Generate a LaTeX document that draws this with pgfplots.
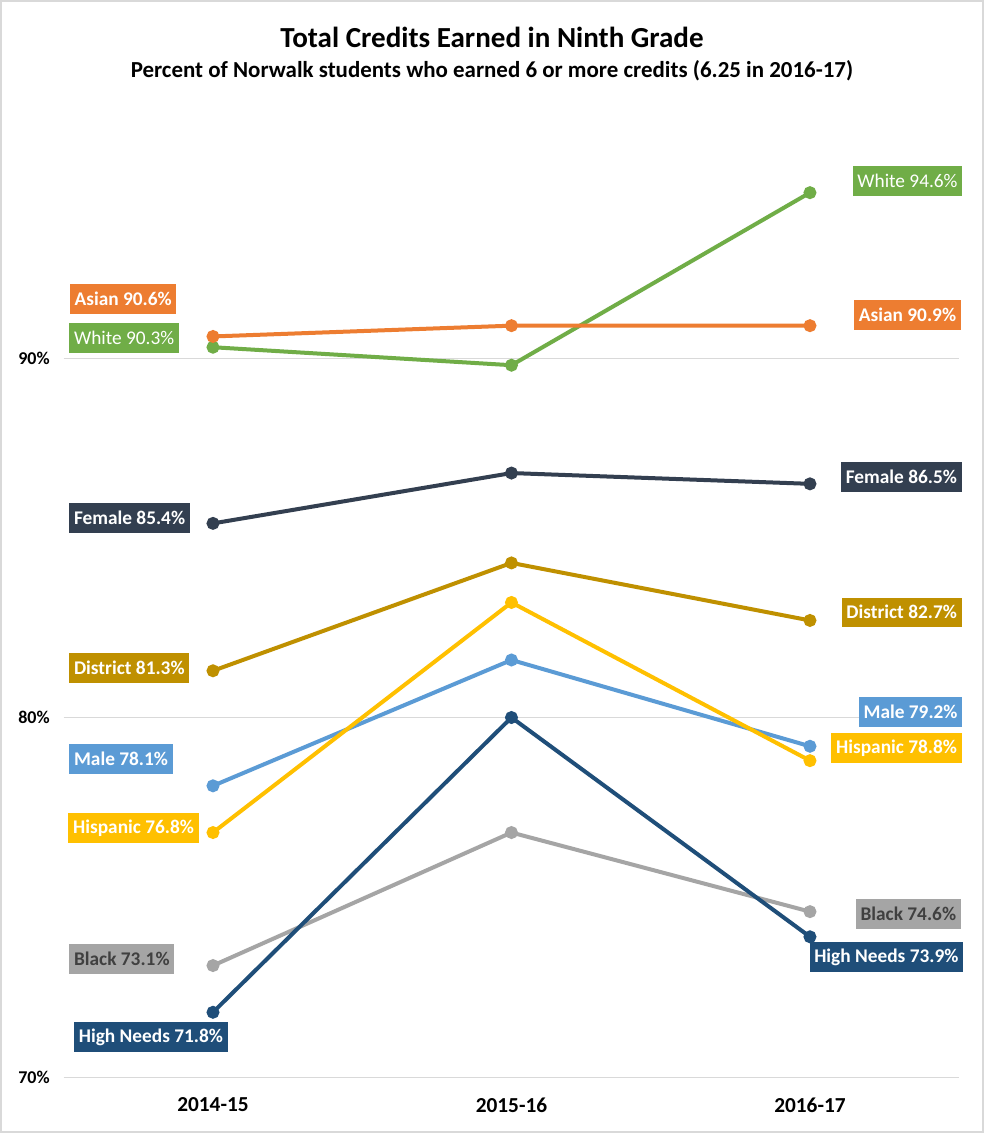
\documentclass[border=0pt]{standalone}
\usepackage{fontspec}
\setmainfont{Carlito}
\usepackage{pgfplots}
\pgfplotsset{compat=1.18}
\definecolor{cAsian}{HTML}{ED7D31}
\definecolor{cWhite}{HTML}{70AD47}
\definecolor{cFemale}{HTML}{333F50}
\definecolor{cDistrict}{HTML}{BF9000}
\definecolor{cHisp}{HTML}{FFC000}
\definecolor{cMale}{HTML}{5B9BD5}
\definecolor{cHigh}{HTML}{1F4E79}
\definecolor{cBlack}{HTML}{A5A5A5}
\definecolor{cBlackTxt}{HTML}{404040}
\definecolor{cGrid}{HTML}{D9D9D9}
\begin{document}
\begin{tikzpicture}[x=0.75pt,y=0.75pt,
  lbl/.style={font=\fontsize{14.5}{17}\selectfont\bfseries, text=white, inner xsep=3.5pt, inner ysep=0pt, minimum height=22pt}]
\useasboundingbox (0,0) rectangle (984,1133);
\fill[white] (0,0) rectangle (984,1133);
\draw[color=cGrid, line width=1.5pt] (1,1) rectangle (983,1132);
\node[font=\fontsize{21.8}{25}\selectfont\bfseries] at (492,1096) {Total Credits Earned in Ninth Grade};
\node[font=\fontsize{17.2}{20}\selectfont\bfseries] at (492,1062) {Percent of Norwalk students who earned 6 or more credits (6.25 in 2016-17)};
\begin{axis}[at={(47.81pt,42pt)}, anchor=south west, scale only axis,
  width=671.6pt, height=701pt,
  xmin=-0.5, xmax=2.5, ymin=70, ymax=96,
  clip=false,
  axis line style={draw=none},
  major tick length=0pt,
  ymajorgrids, grid style={cGrid, line width=0.75pt},
  ytick={70,80,90},
  yticklabel={\pgfmathprintnumber{\tick}\%},
  yticklabel style={font=\fontsize{13.5}{15}\selectfont\bfseries, xshift=-7pt},
  xtick={0,1,2},
  xticklabels={2014-15,2015-16,2016-17},
  xticklabel style={font=\fontsize{16}{18}\selectfont\bfseries, yshift=-12pt},
  /pgf/number format/assume math mode=true,
  every axis plot/.append style={line width=3pt, mark=*, mark size=3.3pt},
]
\addplot[cBlack, mark options={fill=cBlack}] coordinates {(0,73.1) (1,76.8) (2,74.6)};
\addplot[cHigh, mark options={fill=cHigh}] coordinates {(0,71.8) (1,80.0) (2,73.9)};
\addplot[cMale, mark options={fill=cMale}] coordinates {(0,78.1) (1,81.6) (2,79.2)};
\addplot[cHisp, mark options={fill=cHisp}] coordinates {(0,76.8) (1,83.2) (2,78.8)};
\addplot[cDistrict, mark options={fill=cDistrict}] coordinates {(0,81.3) (1,84.3) (2,82.7)};
\addplot[cFemale, mark options={fill=cFemale}] coordinates {(0,85.4) (1,86.8) (2,86.5)};
\addplot[cWhite, mark options={fill=cWhite}] coordinates {(0,90.3) (1,89.8) (2,94.6)};
\addplot[cAsian, mark options={fill=cAsian}] coordinates {(0,90.6) (1,90.9) (2,90.9)};

\node[lbl, fill=cAsian, anchor=west] at (axis cs:-0.48,91.64) {Asian 90.6\%};
\node[lbl, fill=cWhite, anchor=west, font=\fontsize{14.5}{17}\selectfont\mdseries] at (axis cs:-0.482,90.56) {White 90.3\%};
\node[lbl, fill=cFemale, anchor=west] at (axis cs:-0.482,85.55) {Female 85.4\%};
\node[lbl, fill=cDistrict, anchor=west] at (axis cs:-0.482,81.38) {District 81.3\%};
\node[lbl, fill=cMale, anchor=west] at (axis cs:-0.482,78.85) {Male 78.1\%};
\node[lbl, fill=cHisp, anchor=west] at (axis cs:-0.485,76.93) {Hispanic 76.8\%};
\node[lbl, fill=cBlack, text=cBlackTxt, anchor=west] at (axis cs:-0.482,73.28) {Black 73.1\%};
\node[lbl, fill=cHigh, anchor=west] at (axis cs:-0.466,71.11) {High Needs 71.8\%};

\node[lbl, fill=cWhite, anchor=east, font=\fontsize{14.5}{17}\selectfont\mdseries] at (axis cs:2.511,94.92) {White 94.6\%};
\node[lbl, fill=cAsian, anchor=east] at (axis cs:2.506,91.2) {Asian 90.9\%};
\node[lbl, fill=cFemale, anchor=east] at (axis cs:2.509,86.69) {Female 86.5\%};
\node[lbl, fill=cDistrict, anchor=east] at (axis cs:2.509,82.93) {District 82.7\%};
\node[lbl, fill=cMale, anchor=east] at (axis cs:2.511,80.15) {Male 79.2\%};
\node[lbl, fill=cHisp, anchor=east] at (axis cs:2.509,79.15) {Hispanic 78.8\%};
\node[lbl, fill=cBlack, text=cBlackTxt, anchor=east] at (axis cs:2.506,74.53) {Black 74.6\%};
\node[lbl, fill=cHigh, anchor=east] at (axis cs:2.514,73.34) {High Needs 73.9\%};
\end{axis}
\end{tikzpicture}
\end{document}
